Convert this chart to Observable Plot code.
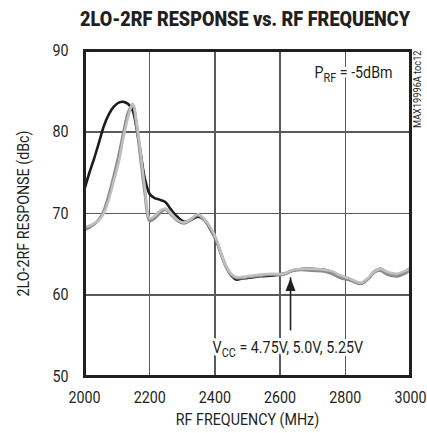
<!DOCTYPE html>
<html>
<head>
<meta charset="utf-8">
<script src="https://cdn.jsdelivr.net/npm/d3@7"></script>
<script src="https://cdn.jsdelivr.net/npm/@observablehq/plot@0.6"></script>
<style>
  html, body { margin: 0; padding: 0; background: #fff; }
  #wrap { width: 427px; height: 433px; position: relative; overflow: hidden; }
  #title { position: relative; height: 36px; width: 427px; }
  #title span { position: absolute; left: 80px; top: 9px; font-family: Roboto, "Liberation Sans", sans-serif; font-weight: 900; font-size: 21px; line-height: 21px; color: #231f20; white-space: nowrap; transform-origin: 0 0; }
</style>
</head>
<body>
<div id="wrap">
  <div id="title"><span id="ttl">2LO-2RF RESPONSE vs. RF FREQUENCY</span></div>
  <div id="chart"></div>
</div>
<script>
// ---- data ----
const titleText = "2LO-2RF RESPONSE vs. RF FREQUENCY";
const xLabel = "RF FREQUENCY (MHz)";
const yLabel = "2LO-2RF RESPONSE (dBc)";
const xTicks = [2000, 2200, 2400, 2600, 2800, 3000];
const yTicks = [50, 60, 70, 80, 90];

const freq = [2000,2015,2030,2045,2060,2075,2090,2105,2120,2135,2148,2160,2172,2185,2200,2215,2230,2248,2265,2285,2305,2325,2348,2368,2388,2405,2420,2435,2450,2465,2480,2500,2540,2580,2610,2640,2665,2700,2735,2760,2785,2815,2847,2870,2890,2908,2925,2940,2960,2980,3000];
const vcc475 = [73.0,75.0,76.8,78.8,80.8,82.2,83.1,83.6,83.7,83.4,82.6,80.4,77.5,74.3,72.4,71.9,71.7,71.4,70.5,69.6,69.0,69.2,69.6,69.2,67.9,66.6,64.9,63.4,62.4,61.9,62.0,62.1,62.3,62.4,62.6,63.0,63.2,63.2,63.1,62.8,62.3,61.9,61.4,62.0,62.9,63.2,62.8,62.5,62.5,62.8,63.3];
const vcc500 = [68.0,68.3,68.7,69.3,70.4,72.3,74.6,77.1,80.0,82.5,83.3,80.6,76.8,72.6,69.1,69.4,70.0,70.5,69.9,69.1,68.8,69.2,69.8,69.2,68.0,66.6,64.9,63.4,62.5,62.1,62.1,62.2,62.4,62.5,62.5,63.0,63.1,63.0,62.9,62.6,62.1,61.8,61.4,62.0,62.8,63.0,62.6,62.4,62.3,62.6,63.1];
const vcc525 = [68.3,68.5,68.8,69.2,70.1,71.8,74.0,76.3,79.4,82.0,83.5,81.2,77.5,73.2,69.4,69.7,70.3,70.6,70.0,69.2,68.9,69.3,69.9,69.3,68.2,66.8,65.0,63.5,62.6,62.2,62.2,62.3,62.5,62.6,62.6,63.1,63.2,63.2,63.1,62.9,62.4,62.0,61.5,62.1,62.9,63.2,62.9,62.7,62.6,62.9,63.3];

// annotations (data coordinates)
const prfNote = {f: 2945, v: 86.6, text: "PRF = -5dBm"};
const vccNote = {f: 2393, v: 52.9, text: "VCC = 4.75V, 5.0V, 5.25V"};
const arrowNote = {f: 2632, from: 55.6, to: 62.1};
const tocNote = {f: 3000, v: 90, text: "MAX19996A toc12"};

// ---- build ----
const rows = (vals) => freq.map((f, i) => ({f, v: vals[i]}));
const arrowHead = {
  draw(ctx, size) {
    ctx.moveTo(0, 0);
    ctx.lineTo(-5, 13);
    ctx.lineTo(5, 13);
    ctx.closePath();
  }
};

const chart = Plot.plot({
  width: 427,
  height: 397,
  marginTop: 14,
  marginLeft: 84,
  marginRight: 17,
  marginBottom: 57,
  style: {fontFamily: "Roboto, sans-serif", fontSize: "17px", color: "#231f20", background: "#fff"},
  x: {domain: [2000, 3000]},
  y: {domain: [50, 90]},
  marks: [
    Plot.ruleX(xTicks, {x: d => d, stroke: "#5a5a5a", strokeWidth: 1.4, shapeRendering: "crispEdges"}),
    Plot.ruleY(yTicks, {y: d => d, stroke: "#5a5a5a", strokeWidth: 1.4, shapeRendering: "crispEdges"}),
    Plot.axisX(xTicks, {tickSize: 0, tickPadding: 14, tickFormat: d => String(d), label: xLabel, labelAnchor: "center", labelArrow: "none", labelOffset: 48}),
    Plot.axisY(yTicks, {tickSize: 0, tickPadding: 16, tickFormat: d => String(d), label: yLabel, labelAnchor: "center", labelArrow: "none", labelOffset: 68}),
    Plot.line(rows(vcc475), {x: "f", y: "v", stroke: "#1c1c1c", strokeWidth: 2.6, curve: "catmull-rom", strokeLinejoin: "round"}),
    Plot.line(rows(vcc500), {x: "f", y: "v", stroke: "#8c8c8c", strokeWidth: 3, curve: "catmull-rom", strokeLinejoin: "round"}),
    Plot.line(rows(vcc525), {x: "f", y: "v", stroke: "#bfbfbf", strokeWidth: 2.6, curve: "catmull-rom", strokeLinejoin: "round"}),
    Plot.text([prfNote], {x: "f", y: "v", text: "text", textAnchor: "end", lineAnchor: "bottom", fill: "#231f20", stroke: "white", strokeWidth: 6, paintOrder: "stroke", className: "prf"}),
    Plot.text([vccNote], {x: "f", y: "v", text: "text", textAnchor: "start", lineAnchor: "bottom", fill: "#231f20", stroke: "white", strokeWidth: 6, paintOrder: "stroke", className: "vcc"}),
    Plot.ruleX([arrowNote], {x: "f", y1: "from", y2: "to", stroke: "#231f20", strokeWidth: 1.6}),
    Plot.dot([arrowNote], {x: "f", y: "to", symbol: arrowHead, fill: "#231f20", stroke: "none", r: 5}),
    Plot.text([tocNote], {x: "f", y: "v", text: "text", rotate: -90, textAnchor: "end", dx: 7, dy: 0, fontSize: 11, fill: "#231f20", className: "toc"}),
    Plot.frame({stroke: "#231f20", strokeWidth: 3})
  ]
});
document.getElementById("chart").appendChild(chart);

const svg = chart.tagName.toLowerCase() === "svg" ? chart : chart.querySelector("svg");
function subscript(sel, base, sub, rest) {
  svg.querySelectorAll(sel + " text").forEach(t => {
    t.textContent = "";
    const ns = "http://www.w3.org/2000/svg";
    const a = document.createElementNS(ns, "tspan"); a.textContent = base; t.appendChild(a);
    const b = document.createElementNS(ns, "tspan"); b.textContent = sub; b.setAttribute("dy", "4"); b.setAttribute("font-size", "13"); t.appendChild(b);
    const c = document.createElementNS(ns, "tspan"); c.textContent = rest; c.setAttribute("dy", "-4"); t.appendChild(c);
  });
}
subscript(".prf", "P", "RF", " = -5dBm");
subscript(".vcc", "V", "CC", " = 4.75V, 5.0V, 5.25V");
// condense all svg text horizontally (narrow typeface look)
svg.querySelectorAll("text").forEach(t => {
  const tr = t.getAttribute("transform") || "";
  t.setAttribute("transform", tr + " scale(0.84,1)");
});

// title fit
const ttl = document.getElementById("ttl");
const w = ttl.getBoundingClientRect().width;
ttl.style.transform = `scaleX(${330 / w})`;
</script>
</body>
</html>
